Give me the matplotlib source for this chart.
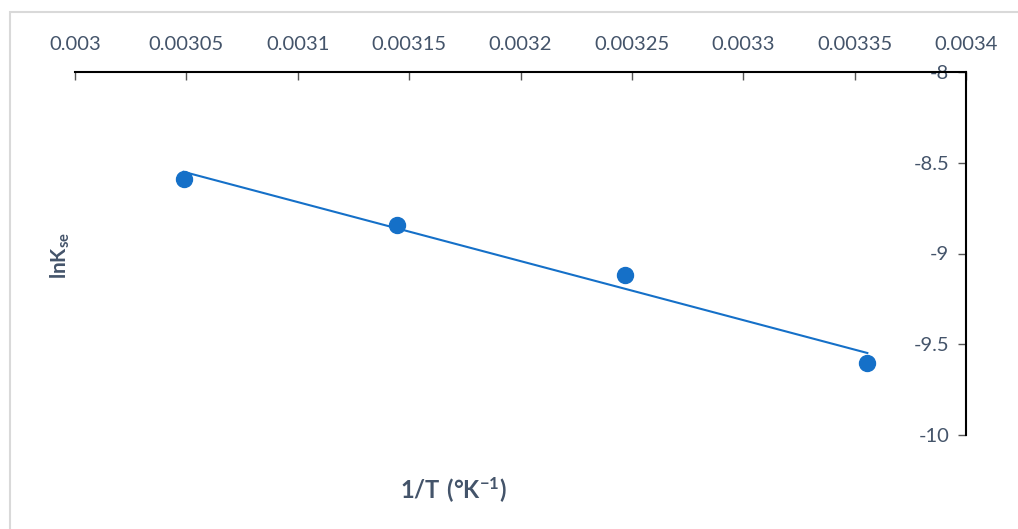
import numpy as np
import matplotlib
matplotlib.use('Agg')
import matplotlib.pyplot as plt
from matplotlib.patches import Rectangle

# data
temps = [328, 318, 308, 298]
inv_t = [1.0 / t for t in temps]
ln_kse = [-8.59, -8.843, -9.118, -9.603]
x_ticks = [0.003, 0.00305, 0.0031, 0.00315, 0.0032, 0.00325, 0.0033, 0.00335, 0.0034]
x_labels = ['0.003', '0.00305', '0.0031', '0.00315', '0.0032', '0.00325', '0.0033', '0.00335', '0.0034']
y_ticks = [-10, -9.5, -9, -8.5, -8]
y_labels = ['-10', '-9.5', '-9', '-8.5', '-8']

plt.rcParams['font.family'] = ['Lato', 'DejaVu Sans']
plt.rcParams['mathtext.fontset'] = 'custom'
plt.rcParams['mathtext.rm'] = 'Lato'
plt.rcParams['mathtext.bf'] = 'Lato:bold'

txt = '#44546A'
blue = '#1570C8'

fig = plt.figure(figsize=(10.18, 5.29), dpi=100)
fig.patches.append(Rectangle((10 / 1018, -0.1), 1.2, 1 - 12 / 529 + 0.1, transform=fig.transFigure,
                             fill=False, edgecolor='#D9D9D9', linewidth=1.5))
ax = fig.add_axes([75 / 1018, 1 - 435 / 529, (966 - 75) / 1018, (435 - 72) / 529])

# trendline (least squares)
k, b = np.polyfit(inv_t, ln_kse, 1)
xs = np.array([min(inv_t), max(inv_t)])
ax.plot(xs, k * xs + b, color=blue, linewidth=1.5, zorder=2)
ax.plot(inv_t, ln_kse, 'o', color=blue, markersize=11.5, zorder=3)

ax.set_xlim(0.003, 0.0034)
ax.set_ylim(-10, -8)

for s in ['bottom', 'right']:
    ax.spines[s].set_visible(False)
ax.spines['left'].set_position(('data', 0.0034))
ax.spines['left'].set_linewidth(1.5)
ax.spines['top'].set_linewidth(1.5)

ax.xaxis.tick_top()
ax.set_xticks(x_ticks)
ax.set_xticklabels(x_labels)
ax.tick_params(axis='x', direction='in', length=6, width=1, colors='#555555',
               labelcolor=txt, labelsize=14.5, pad=14)
ax.set_yticks(y_ticks)
ax.set_yticklabels(y_labels)
ax.tick_params(axis='y', direction='out', length=6, width=1, colors='#555555',
               labelcolor=txt, labelsize=14.5, pad=6)

fig.text(453 / 1018, 1 - 490 / 529, r'$\mathbf{1/T\ (°K^{-1})}$', ha='center', va='center',
         fontsize=17, color=txt)
fig.text(60 / 1018, 1 - 255 / 529, r'$\mathbf{lnK_{se}}$', ha='center', va='center',
         rotation=90, fontsize=15, color=txt)

fig.savefig('out.png', dpi=100)
